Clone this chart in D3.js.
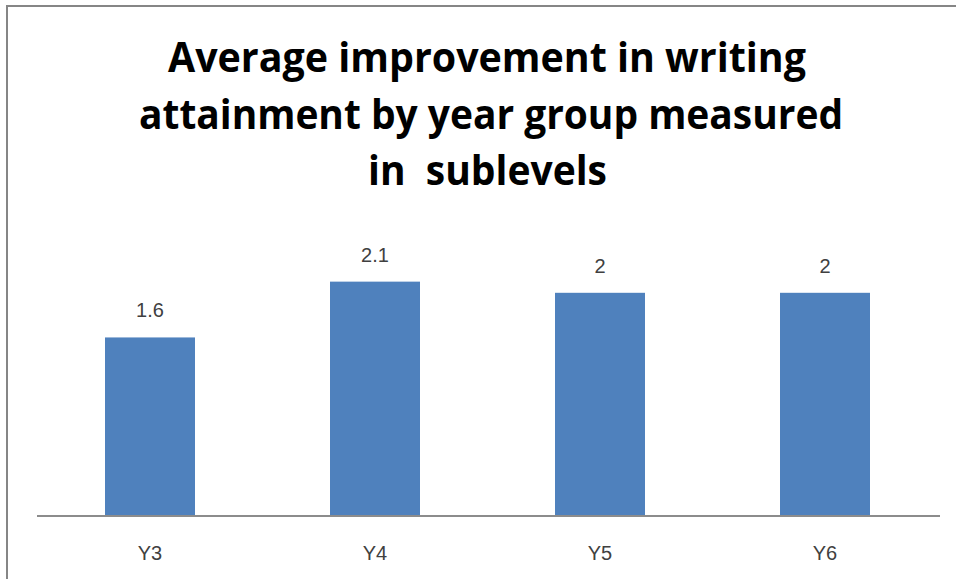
<!DOCTYPE html>
<html>
<head>
<meta charset="utf-8">
<script src="https://cdn.jsdelivr.net/npm/d3@7"></script>
<style>
html,body{margin:0;padding:0;background:#fff;}
svg{display:block;}
</style>
</head>
<body>
<svg id="chart" width="956" height="579"></svg>
<script>
const categories = ["Y3", "Y4", "Y5", "Y6"];
const values = [1.6, 2.1, 2, 2];
const valueLabels = ["1.6", "2.1", "2", "2"];
const titleLines = ["Average improvement in writing", "attainment by year group measured", "in  sublevels"];

const svg = d3.select("#chart");

// chart border (top and left visible; right/bottom off-image)
svg.append("rect")
  .attr("x", 7).attr("y", 6).attr("width", 970).attr("height", 600)
  .attr("fill", "#fff").attr("stroke", "#868686").attr("stroke-width", 2);

const x = d3.scaleBand().domain(categories).range([37.5, 937.5]).paddingInner(0.6).paddingOuter(0.3);
const y = d3.scaleLinear().domain([0, 2.5]).range([516, 237]);

// title
const titleX = [168, 139, 368];
const titleW = [638, 704, 239];
const titleY = [72, 129, 185];
const title = svg.append("g");
titleLines.forEach((t, i) => {
  title.append("text")
    .attr("x", titleX[i]).attr("y", titleY[i])
    .attr("text-anchor", "start")
    .attr("font-family", "'Open Sans', sans-serif")
    .attr("font-weight", 700)
    .attr("font-size", 41)
    .attr("textLength", titleW[i])
    .attr("lengthAdjust", "spacingAndGlyphs")
    .attr("fill", "#000")
    .style("white-space", "pre")
    .text(t);
});

// bars
svg.append("g").selectAll("rect").data(values).join("rect")
  .attr("x", (d, i) => x(categories[i]))
  .attr("y", d => y(d))
  .attr("width", x.bandwidth())
  .attr("height", d => y(0) - y(d))
  .attr("fill", "#4f81bd");

// value labels
svg.append("g").selectAll("text").data(values).join("text")
  .attr("x", (d, i) => x(categories[i]) + x.bandwidth() / 2)
  .attr("y", d => y(d) - 20)
  .attr("text-anchor", "middle")
  .attr("font-family", "'Liberation Sans', Arial, sans-serif")
  .attr("font-size", 20)
  .attr("fill", "#404040")
  .text((d, i) => valueLabels[i]);

// x axis
const xAxis = d3.axisBottom(x).tickSize(0).tickPadding(0);
const gx = svg.append("g").attr("transform", `translate(0,${y(0)})`).call(xAxis);
gx.select(".domain").attr("stroke", "#8c8c8c").attr("stroke-width", 2).attr("d", "M37,0H940");
gx.selectAll(".tick text")
  .attr("y", 44)
  .attr("dy", 0)
  .attr("font-family", "'Liberation Sans', Arial, sans-serif")
  .attr("font-size", 20)
  .attr("fill", "#404040");
</script>
</body>
</html>
